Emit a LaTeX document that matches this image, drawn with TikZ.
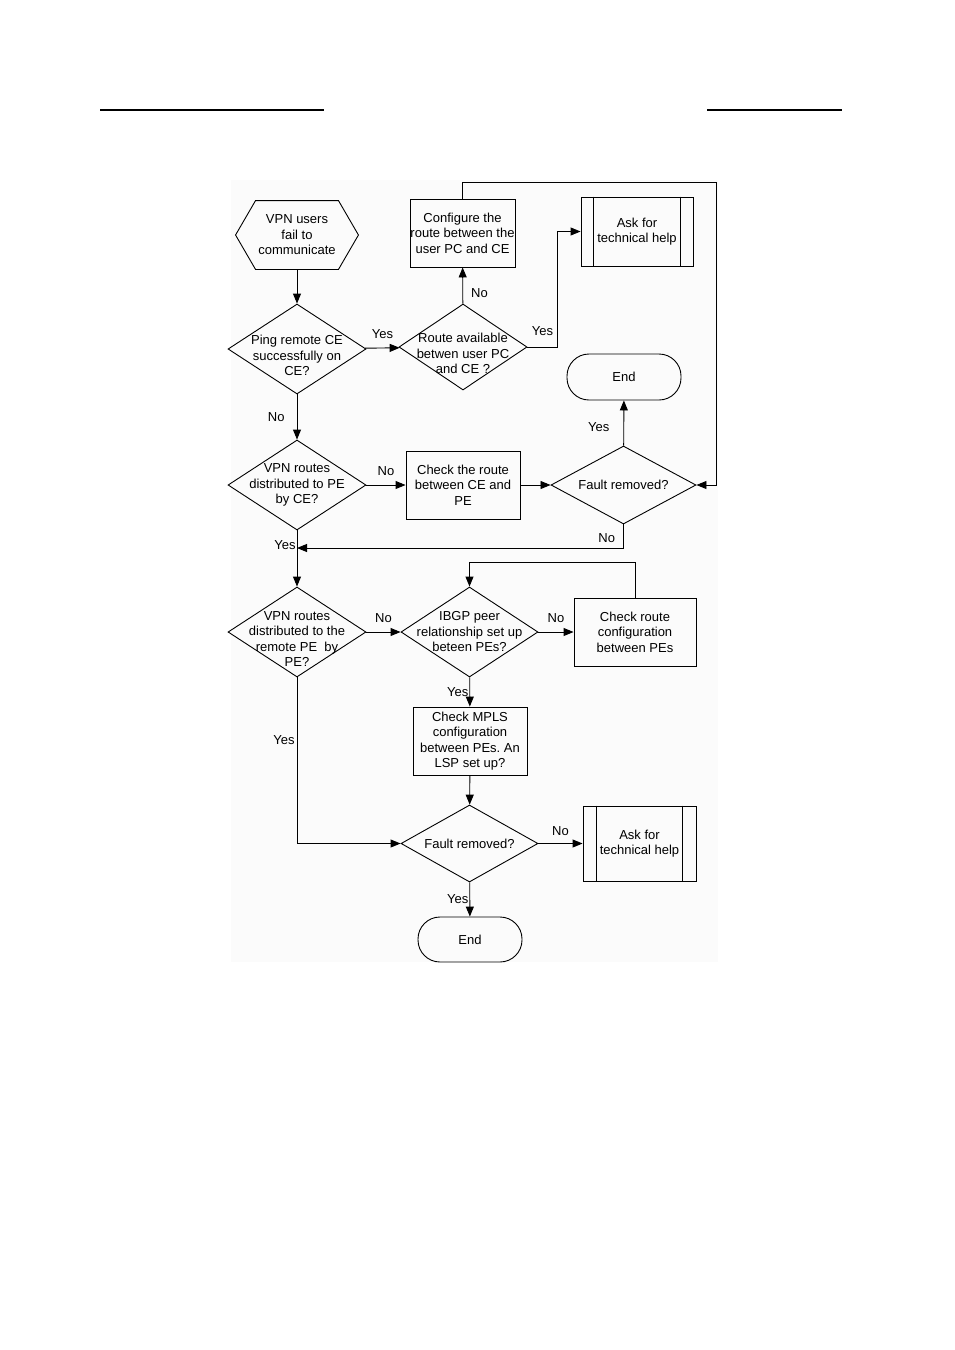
\documentclass[tikz,border=0pt]{standalone}
\usepackage{fontspec}
\setmainfont{Liberation Sans}
\usetikzlibrary{shapes.geometric,arrows.meta}
\frenchspacing
\begin{document}
\begin{tikzpicture}[x=1pt, y=-1pt, line width=0.9pt, line join=miter,
  every node/.style={font=\fontsize{13}{15.5}\selectfont, align=center},
  decision/.style={draw, diamond, shape aspect=1.5, inner sep=-16pt},
  process/.style={draw, rectangle, inner sep=0pt},
  terminal/.style={draw, rectangle, rounded corners=22pt, inner sep=0pt},
  flow/.style={-{Triangle[length=10pt, width=8pt]}},
  tag/.style={inner sep=2pt}]
  \useasboundingbox (0,0) rectangle (954,1350);
  % the page rules and the grey ground of the chart
  \draw[line width=1.2pt] (100,110) -- (324,110);
  \draw[line width=1.2pt] (707,110) -- (842,110);
  \fill[black!1.5] (231,180) rectangle (718,962);
  % first part: user PC and CE
  \node[minimum width=122pt, minimum height=68pt, inner sep=0pt] (start) at (297,235) {VPN users\\fail to\\communicate};
  \draw (start.west) -- ([xshift=20pt]start.north west) -- ([xshift=-20pt]start.north east)
    -- (start.east) -- ([xshift=-20pt]start.south east) -- ([xshift=20pt]start.south west) -- cycle;
  \node[decision, minimum width=138pt, minimum height=90pt] (ping) at (297,349) {\rule{0pt}{23pt}Ping remote CE\\successfully on\\CE?};
  \node[decision, minimum width=128pt, minimum height=86pt] (avail) at (463,347) {\rule{0pt}{23pt}Route available\\betwen user PC\\and CE ?};
  \node[process, minimum width=105pt, minimum height=68pt] (config) at (462.5,233) {Configure the\\route between the\\user PC and CE};
  \node[process, minimum width=112pt, minimum height=69pt] (help1) at (637,231.5) {Ask for\\technical help};
  \draw ([xshift=13pt]help1.north west) -- ([xshift=13pt]help1.south west);
  \draw ([xshift=-13pt]help1.north east) -- ([xshift=-13pt]help1.south east);
  \node[terminal, minimum width=114pt, minimum height=46pt] (end1) at (624,377) {End};
  % second part: CE and PE
  \node[decision, minimum width=138pt, minimum height=90pt] (byce) at (297,485) {VPN routes\\distributed to PE\\by CE?};
  \node[process, minimum width=114pt, minimum height=68pt] (cepe) at (463,485) {Check the route\\between CE and\\PE};
  \node[decision, minimum width=145pt, minimum height=78pt] (fixed1) at (623.5,485) {Fault removed?};
  \coordinate (merge) at (297,548);
  % third part: between the PEs
  \node[decision, minimum width=138pt, minimum height=90pt] (remote) at (297,632) {\rule{0pt}{23pt}VPN routes\\distributed to the\\remote PE\ \ by\\PE?};
  \node[decision, minimum width=137pt, minimum height=90pt] (ibgp) at (469.5,632) {IBGP peer\\relationship set up\\beteen PEs?};
  \node[process, minimum width=122pt, minimum height=68pt] (pes) at (635,632) {Check route\\configuration\\between PEs};
  \node[process, minimum width=114pt, minimum height=68pt] (mpls) at (470,741) {Check MPLS\\configuration\\between PEs. An\\LSP set up?};
  \node[decision, minimum width=137pt, minimum height=77pt] (fixed2) at (469.5,843.5) {Fault removed?};
  \node[process, minimum width=113pt, minimum height=75pt] (help2) at (639.5,843.5) {Ask for\\technical help};
  \draw ([xshift=14pt]help2.north west) -- ([xshift=14pt]help2.south west);
  \draw ([xshift=-14pt]help2.north east) -- ([xshift=-14pt]help2.south east);
  \node[terminal, minimum width=104pt, minimum height=45pt] (end2) at (470,939.5) {End};
  % the connectors
  \draw[flow] (start) -- (ping);
  \draw[flow] (ping) -- node[tag, above=7pt] {Yes} (avail);
  \draw[flow] (avail) -- node[tag, right=6pt, pos=0.3] {No} (config);
  \draw[flow] (avail.east) -- node[tag, above=9pt] {Yes} ++(30,0) |- (help1.west);
  \draw[flow] (config.north) |- (716,182) |- (fixed1.east);
  \draw[flow] (ping) -- node[tag, left=10pt] {No} (byce);
  \draw[flow] (byce) -- node[tag, above=7pt] {No} (cepe);
  \draw[flow] (cepe) -- (fixed1);
  \draw[flow] (fixed1) -- node[tag, left=12pt, pos=0.4] {Yes} (end1);
  \draw[flow] (fixed1.south) |- node[tag, left=6pt, pos=0.3] {No} (merge);
  \draw[flow] (byce) -- node[tag, left, inner sep=1pt, pos=0.26] {Yes} (remote);
  \draw[flow] (remote) -- node[tag, above=7pt] {No} (ibgp);
  \draw[flow] (ibgp) -- node[tag, above=7pt] {No} (pes);
  \draw[flow] (pes.north) -- ++(0,-35) -| (ibgp.north);
  \draw[flow] (ibgp) -- node[tag, left, inner sep=1pt] {Yes} (mpls);
  \draw[flow] (mpls) -- (fixed2);
  \draw[flow] (remote.south) |- node[tag, left, pos=0.19] {Yes} (fixed2.west);
  \draw[flow] (fixed2) -- node[tag, above=5pt] {No} (help2);
  \draw[flow] (fixed2) -- node[tag, left, inner sep=1pt] {Yes} (end2);
\end{tikzpicture}
\end{document}
